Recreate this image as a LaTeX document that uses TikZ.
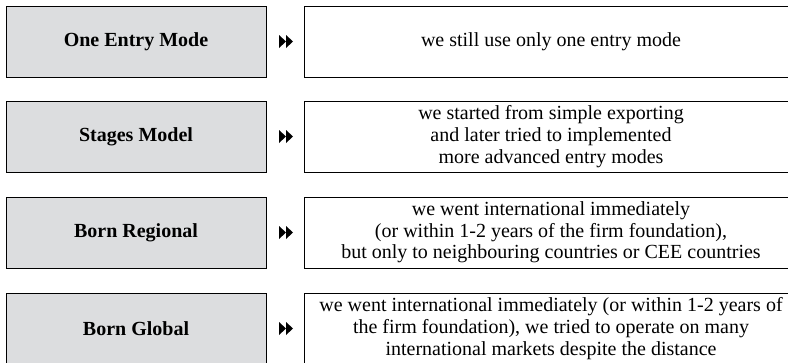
\documentclass[tikz,border=0pt]{standalone}
\usepackage{fontspec}
\setmainfont{Liberation Serif}
\usetikzlibrary{calc}
\definecolor{boxgray}{RGB}{220,221,223}
\tikzset{
  modebox/.style={draw=black, line width=0.8pt, fill=boxgray, minimum width=260pt, minimum height=71pt, inner sep=0pt, font=\fontsize{20}{21.7}\selectfont\bfseries},
  descbox/.style={draw=black, line width=0.8pt, fill=white, minimum width=494pt, minimum height=71pt, inner sep=0pt, align=center, font=\fontsize{20}{21.7}\selectfont},
  dbltri/.pic={
    \fill[black] (-7pt,-6.5pt) -- (0pt,0pt) -- (-7pt,6.5pt) -- cycle;
    \fill[black] (0pt,-6.5pt) -- (7pt,0pt) -- (0pt,6.5pt) -- cycle;
  }
}
\begin{document}
\begin{tikzpicture}[x=1pt,y=-1pt]
\useasboundingbox (0,0) rectangle (788,362);
\begin{scope}
\clip (0,0) rectangle (788,362);
\node[modebox] (m1) at (136,41.5) {One Entry Mode};
\node[modebox] (m2) at (136,136.5) {Stages Model};
\node[modebox] (m3) at (136,232.5) {Born Regional};
\node[modebox] (m4) at (136,328.5) {Born Global};
\node[descbox] (d1) at (551,41.5) {we still use only one entry mode};
\node[descbox] (d2) at (551,136.5) {we started from simple exporting\\and later tried to implemented\\more advanced entry modes};
\node[descbox] (d3) at (551,232.5) {we went international immediately\\(or within 1-2 years of the firm foundation),\\but only to neighbouring countries or CEE countries};
\node[descbox] (d4) at (551,328.5) {we went international immediately (or within 1-2 years of\\the firm foundation), we tried to operate on many\\international markets despite the distance};
\foreach \i in {1,2,3,4} {
  \coordinate (a\i) at ($(m\i.east)!0.5!(d\i.west)+(1pt,0)$);
  \pic at (a\i) {dbltri};
}
\end{scope}
\end{tikzpicture}
\end{document}
